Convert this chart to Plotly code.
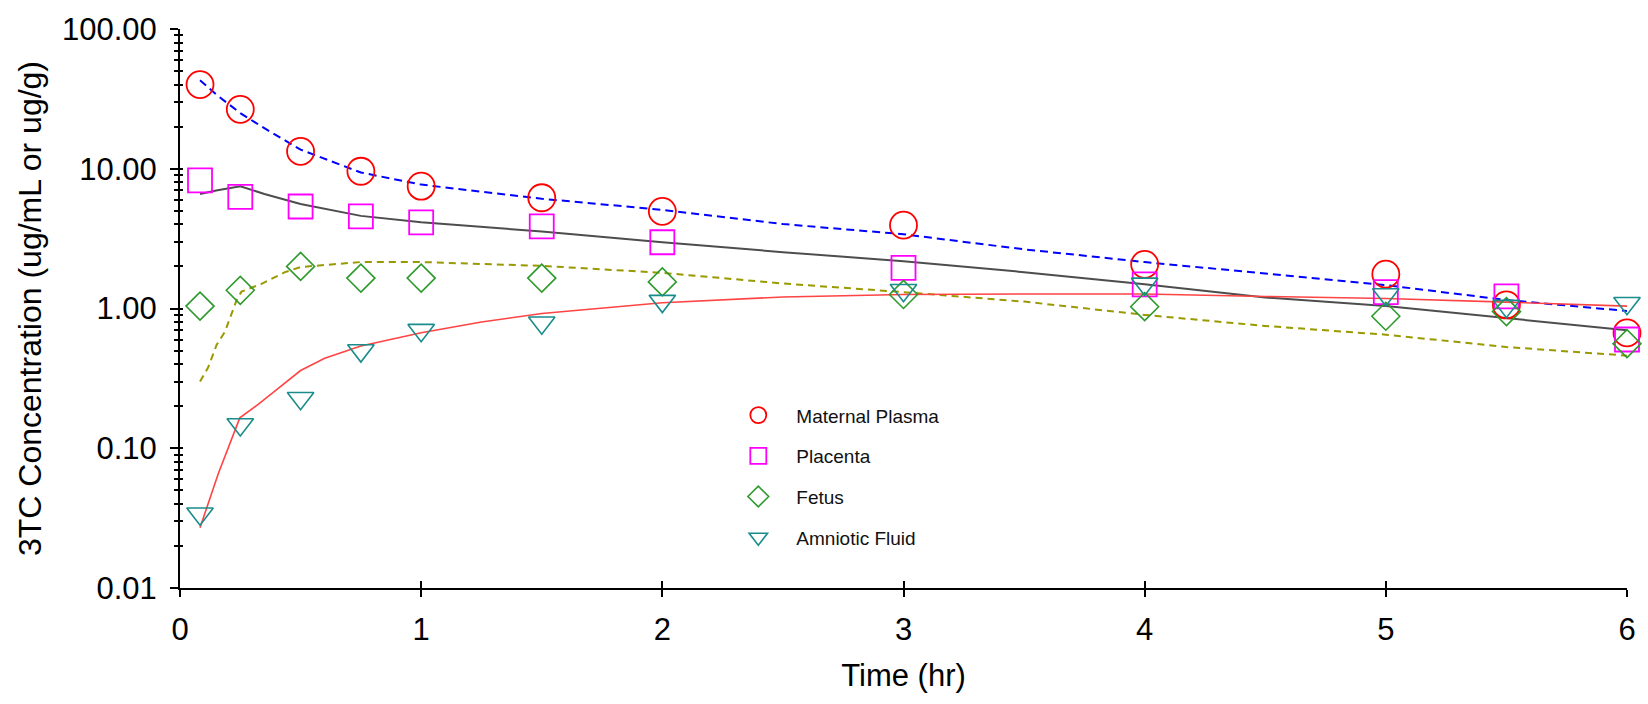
import plotly.graph_objects as go

# Observed data (hr)
time_obs = [0.083, 0.25, 0.5, 0.75, 1, 1.5, 2, 3, 4, 5, 5.5, 6]
maternal_plasma = [40, 26.6, 13.3, 9.6, 7.5, 6.2, 4.95, 3.95, 2.07, 1.76, 1.06, 0.67]
placenta = [8.26, 6.3, 5.37, 4.56, 4.13, 3.87, 2.98, 1.95, 1.49, 1.31, 1.22, 0.60]
fetus = [1.04, 1.35, 2.0, 1.65, 1.65, 1.65, 1.55, 1.26, 1.03, 0.88, 0.95, 0.56]
amniotic_fluid = [0.034, 0.148, 0.228, 0.50, 0.70, 0.79, 1.13, 1.35, 1.5, 1.26, 1.04, 1.09]

# Model-fit curves
time_fit = [0.083, 0.15, 0.25, 0.35, 0.5, 0.75, 1, 1.5, 2, 2.5, 3, 3.5, 4, 4.5, 5, 5.5, 6]
fit_maternal_plasma = [43, 34, 25, 19.5, 13.7, 9.4, 7.7, 6.1, 5.08, 4.02, 3.4, 2.65, 2.15, 1.77, 1.47, 1.15, 0.96]
fit_placenta = [6.6, 7.0, 7.5, 6.6, 5.6, 4.6, 4.15, 3.55, 2.98, 2.53, 2.18, 1.82, 1.49, 1.2, 1.04, 0.85, 0.70]

time_fit_fetus = [0.083, 0.117, 0.152, 0.186, 0.207, 0.235, 0.255, 0.338, 0.435, 0.5, 0.75, 1, 1.5, 2, 2.5, 3, 3.5, 4, 4.5, 5, 5.5, 6]
fit_fetus = [0.30, 0.38, 0.55, 0.68, 0.85, 1.15, 1.32, 1.5, 1.82, 1.98, 2.15, 2.15, 2.02, 1.80, 1.51, 1.31, 1.12, 0.90, 0.75, 0.65, 0.53, 0.46]

time_fit_af = [0.083, 0.159, 0.248, 0.324, 0.393, 0.5, 0.6, 0.75, 1, 1.25, 1.5, 2, 2.5, 3, 3.5, 4, 4.5, 5, 5.5, 6]
fit_amniotic_fluid = [0.027, 0.066, 0.165, 0.206, 0.256, 0.36, 0.44, 0.54, 0.67, 0.80, 0.92, 1.10, 1.21, 1.26, 1.27, 1.27, 1.22, 1.18, 1.11, 1.04]

series_names = ["Maternal Plasma", "Placenta", "Fetus", "Amniotic Fluid"]

FONT = "Liberation Sans, Arial, sans-serif"

fig = go.Figure()

# fitted lines
fig.add_trace(go.Scatter(x=time_fit, y=fit_maternal_plasma, mode="lines",
                         line=dict(color="#0000FF", width=2, dash="8px,5px"),
                         showlegend=False, hoverinfo="skip"))
fig.add_trace(go.Scatter(x=time_fit, y=fit_placenta, mode="lines",
                         line=dict(color="#4D4D4D", width=2),
                         showlegend=False, hoverinfo="skip"))
fig.add_trace(go.Scatter(x=time_fit_fetus, y=fit_fetus, mode="lines",
                         line=dict(color="#999900", width=2, dash="7px,5px"),
                         showlegend=False, hoverinfo="skip"))
fig.add_trace(go.Scatter(x=time_fit_af, y=fit_amniotic_fluid, mode="lines",
                         line=dict(color="#FF4444", width=1.6),
                         showlegend=False, hoverinfo="skip"))

# observed markers
fig.add_trace(go.Scatter(x=time_obs, y=maternal_plasma, mode="markers", name=series_names[0],
                         legendgroup="a", cliponaxis=False,
                         marker=dict(symbol="circle-open", size=27, color="#FF0000",
                                     line=dict(width=1.8, color="#FF0000"))))
fig.add_trace(go.Scatter(x=time_obs, y=placenta, mode="markers", name=series_names[1],
                         legendgroup="b", cliponaxis=False,
                         marker=dict(symbol="square-open", size=24, color="#FF00FF",
                                     line=dict(width=1.8, color="#FF00FF"))))
fig.add_trace(go.Scatter(x=time_obs, y=fetus, mode="markers", name=series_names[2],
                         legendgroup="c", cliponaxis=False,
                         marker=dict(symbol="diamond-open", size=21.5, color="#2E9A2E",
                                     line=dict(width=1.6, color="#2E9A2E"))))
fig.add_trace(go.Scatter(x=time_obs, y=amniotic_fluid, mode="markers", name=series_names[3],
                         legendgroup="d", cliponaxis=False,
                         marker=dict(symbol="triangle-down-open", size=23, color="#1A8C8C",
                                     line=dict(width=1.6, color="#1A8C8C"))))

# empty trace for overlay (inside tick) axes
fig.add_trace(go.Scatter(x=[], y=[], xaxis="x2", yaxis="y2", showlegend=False, hoverinfo="skip"))

fig.update_layout(
    width=1648, height=704,
    margin=dict(l=180, r=19, t=25, b=116),
    paper_bgcolor="white", plot_bgcolor="white",
    font=dict(family=FONT, color="#000000", size=31),
    showlegend=True,
    legend=dict(x=0.3734, y=0.343, xanchor="left", yanchor="top",
                bgcolor="rgba(0,0,0,0)", borderwidth=0,
                font=dict(family=FONT, size=19, color="#111111"),
                itemwidth=66, tracegroupgap=13, traceorder="grouped"),
    xaxis=dict(range=[0, 6], dtick=1, tick0=0, showgrid=False, zeroline=False,
               showline=True, linecolor="#000000", linewidth=2,
               ticks="outside", ticklen=7, tickwidth=1.5, tickcolor="#000000",
               ticklabelstandoff=6,
               tickfont=dict(size=31, family=FONT),
               title=dict(text="Time (hr)", font=dict(size=31, family=FONT), standoff=18)),
    yaxis=dict(type="log", range=[-2, 2], dtick=1, tick0=0, tickformat=".2f",
               showgrid=False, zeroline=False,
               showline=True, linecolor="#000000", linewidth=2,
               ticks="outside", ticklen=8, tickwidth=1.5, tickcolor="#000000",
               ticklabelstandoff=7,
               minor=dict(ticks="outside", ticklen=4, tickwidth=1.5, tickcolor="#000000", dtick="D1", showgrid=False),
               tickfont=dict(size=31, family=FONT),
               title=dict(text="3TC Concentration (ug/mL or ug/g)", font=dict(size=32, family=FONT), standoff=11)),
    xaxis2=dict(overlaying="x", anchor="y", range=[0, 6], dtick=1, tick0=0,
                showgrid=False, zeroline=False, showline=False, showticklabels=False,
                ticks="inside", ticklen=7, tickwidth=1.5, tickcolor="#000000"),
    yaxis2=dict(overlaying="y", anchor="x", type="log", range=[-2, 2], dtick=1, tick0=0,
                showgrid=False, zeroline=False, showline=False, showticklabels=False,
                ticks="inside", ticklen=3, tickwidth=1.5, tickcolor="#000000",
                minor=dict(ticks="inside", ticklen=3, tickwidth=1.5, tickcolor="#000000", dtick="D1", showgrid=False)),
)

fig.write_html("out.html")
